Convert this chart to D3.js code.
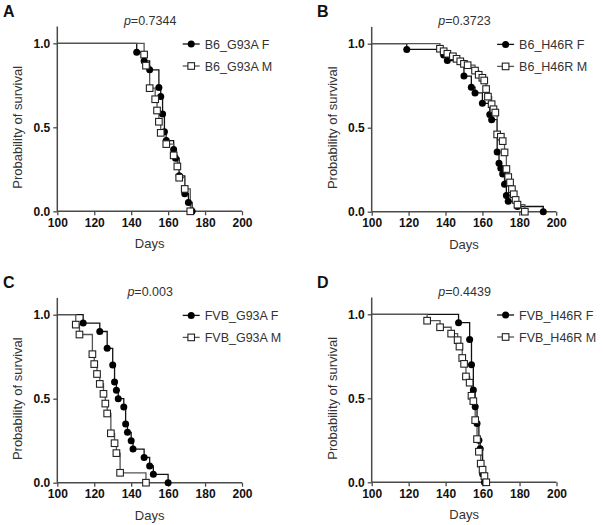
<!DOCTYPE html>
<html><head><meta charset="utf-8">
<script src="https://cdn.jsdelivr.net/npm/d3@7"></script>
<style>body{margin:0;background:#fff}svg{display:block;font-family:"Liberation Sans",Arial,sans-serif}</style>
</head><body><svg id="c" width="603" height="525"></svg>
<script>
// ---- data ----
const panelLetters = ["A", "B", "C", "D"];
const pValues = ["0.7344", "0.3723", "0.003", "0.4439"];
const seriesNames = [
  ["B6_G93A F", "B6_G93A M"],
  ["B6_H46R F", "B6_H46R M"],
  ["FVB_G93A F", "FVB_G93A M"],
  ["FVB_H46R F", "FVB_H46R M"]
];
const xTicks = [100, 120, 140, 160, 180, 200];
const yTicks = [0, 0.5, 1.0];
const xLabel = "Days";
const yLabel = "Probability of survival";

// [day, survival] after each event
const b6G93A_F = [[143,.947],[147,.895],[150,.842],[155,.737],[156,.684],[157,.579],[158,.474],[159,.421],[163,.368],[164,.316],[166,.211],[169,.105],[171,.053],[173,0]];
const b6G93A_M = [[147,.933],[148,.867],[150,.733],[153,.667],[154,.600],[155,.533],[156,.467],[159,.400],[163,.333],[165,.267],[166,.200],[169,.133],[172,0]];
const b6H46R_F = [[119,.966],[139,.933],[141,.900],[150,.807],[154,.741],[156,.707],[160,.645],[164,.578],[165,.548],[168,.355],[169,.289],[170,.259],[171,.225],[172,.164],[173,.096],[174,.062],[179,.031],[193,0]];
const b6H46R_M = [[137,.970],[139,.955],[141,.940],[144,.925],[146,.910],[148,.895],[150,.880],[152,.872],[156,.840],[158,.815],[160,.797],[161,.781],[162,.730],[163,.685],[165,.640],[166,.610],[167,.590],[168,.460],[170,.446],[171,.420],[172,.353],[173,.254],[174,.206],[175,.174],[176,.134],[177,.104],[178,.070],[179,.042],[183,0]];
const fvbG93A_F = [[114,.95],[123,.90],[127,.80],[130,.70],[131,.60],[132,.55],[133,.50],[136,.45],[137,.35],[138,.30],[140,.25],[141,.20],[147,.15],[150,.10],[152,.05],[160,0]];
const fvbG93A_M = [[110,.941],[112,.882],[119,.765],[120,.706],[121.5,.647],[123,.588],[125,.529],[126,.471],[127,.412],[129,.294],[131,.235],[132,.176],[134,.059],[148,0]];
const fvbH46R_F = [[147,.95],[153,.85],[154,.70],[155,.55],[156,.45],[157,.35],[158,.25],[158.7,.20],[160,.05],[161,0]];
const fvbH46R_M = [[130,.962],[137,.923],[143,.885],[146.5,.846],[147.5,.808],[149,.740],[150,.705],[151,.630],[153,.593],[154,.515],[155,.483],[156,.370],[157,.257],[158,.182],[159,.111],[160,.075],[161,.037],[162,0]];

const panelSeries = [
  [b6G93A_F, b6G93A_M],
  [b6H46R_F, b6H46R_M],
  [fvbG93A_F, fvbG93A_M],
  [fvbH46R_F, fvbH46R_M]
];

// ---- layout ----
const layout = [
  {x0: 57.3, x1: 242, y0: 211.3},
  {x0: 371.7, x1: 556.2, y0: 211.7},
  {x0: 57.3, x1: 242, y0: 482.7},
  {x0: 371.7, x1: 556.5, y0: 482.3}
];
const unitH = 168;
const axisColor = "#4a4a4a";
const svg = d3.select("#c");

panelSeries.forEach((series, i) => {
  const L = layout[i];
  const x = d3.scaleLinear().domain([100, 200]).range([L.x0, L.x1]);
  const y = d3.scaleLinear().domain([0, 1.1]).range([L.y0, L.y0 - unitH * 1.1]);
  const g = svg.append("g");

  // panel letter
  g.append("text").attr("x", i % 2 === 0 ? 3 : 317).attr("y", L.y0 - 194.5)
    .attr("font-size", 16).attr("font-weight", "bold").attr("fill", "#111").text(panelLetters[i]);
  // p value
  const pt = g.append("text").attr("x", (L.x0 + L.x1) / 2 + 0.5).attr("y", L.y0 - 186.5)
    .attr("text-anchor", "middle").attr("font-size", 12.5).attr("fill", "#333");
  pt.append("tspan").attr("font-style", "italic").text("p");
  pt.append("tspan").text("=" + pValues[i]);

  // axes
  const xa = g.append("g").attr("transform", `translate(0,${L.y0})`)
    .call(d3.axisBottom(x).tickValues(xTicks).tickSize(4).tickPadding(3).tickFormat(d3.format("d")));
  const ya = g.append("g").attr("transform", `translate(${L.x0},0)`)
    .call(d3.axisLeft(y).tickValues(yTicks).tickSize(4).tickPadding(3).tickFormat(d3.format(".1f")));
  [xa, ya].forEach(a => {
    a.select(".domain").attr("stroke", axisColor).attr("stroke-width", 1.5);
    a.selectAll(".tick line").attr("stroke", axisColor).attr("stroke-width", 1.3);
    a.selectAll(".tick text").attr("font-size", 12).attr("font-weight", "bold").attr("fill", "#111")
      .attr("font-family", "'Liberation Sans', Arial, sans-serif");
  });
  ya.select(".domain").attr("d", `M0,${y(1.1)}V${L.y0}`);
  xa.select(".domain").attr("d", `M${L.x0},0H${L.x1}`);

  g.append("text").attr("x", (L.x0 + L.x1) / 2).attr("y", L.y0 + 37)
    .attr("text-anchor", "middle").attr("font-size", 13).attr("fill", "#333").text(xLabel);
  g.append("text").attr("transform", `translate(${L.x0 - 35},${y(0.5)}) rotate(-90)`)
    .attr("text-anchor", "middle").attr("font-size", 13).attr("fill", "#333").text(yLabel);

  const line = d3.line().x(d => x(d[0])).y(d => y(d[1])).curve(d3.curveStepAfter);
  const lineColors = ["#111", "#555"];
  series.forEach((s, k) => {
    g.append("path").datum([[100, 1], ...s]).attr("d", line)
      .attr("fill", "none").attr("stroke", lineColors[k]).attr("stroke-width", 1.3);
  });
  // markers: F circles, M squares
  g.selectAll(".fc").data(series[0]).join("circle")
    .attr("cx", d => x(d[0])).attr("cy", d => y(d[1])).attr("r", 3.5).attr("fill", "#000");
  g.selectAll(".ms").data(series[1]).join("rect")
    .attr("x", d => x(d[0]) - 3.3).attr("y", d => y(d[1]) - 3.3).attr("width", 6.6).attr("height", 6.6)
    .attr("fill", "#fff").attr("stroke", "#222").attr("stroke-width", 1.1);

  // legend
  seriesNames[i].forEach((name, k) => {
    const ly = y(1) + 0.7 + k * 22;
    const lx = L.x0 + 125.4;
    g.append("line").attr("x1", lx).attr("x2", lx + 17).attr("y1", ly).attr("y2", ly)
      .attr("stroke", lineColors[k]).attr("stroke-width", 1.3);
    if (k === 0) g.append("circle").attr("cx", lx + 8.5).attr("cy", ly).attr("r", 3.5).attr("fill", "#000");
    else g.append("rect").attr("x", lx + 5.2).attr("y", ly - 3.3).attr("width", 6.6).attr("height", 6.6)
      .attr("fill", "#fff").attr("stroke", "#222").attr("stroke-width", 1.1);
    g.append("text").attr("x", lx + 22).attr("y", ly + 4.5).attr("font-size", 12.5).attr("fill", "#333").text(name);
  });
});
</script></body></html>
